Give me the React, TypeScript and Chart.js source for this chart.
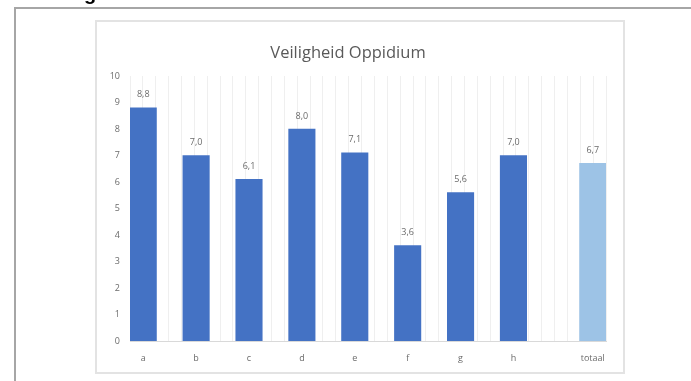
import React, { useEffect, useRef } from "react";
import { Chart, registerables } from "chart.js";

Chart.register(...registerables);

const chartTitle = "Veiligheid Oppidium";
const groups = ["a", "b", "c", "d", "e", "f", "g", "h"];
const groupScores = [8.8, 7.0, 6.1, 8.0, 7.1, 3.6, 5.6, 7.0];
const totalLabel = "totaal";
const totalScore = 6.7;
const yTicks = [0, 1, 2, 3, 4, 5, 6, 7, 8, 9, 10];

const DARK = "#4472C4";
const LIGHT = "#9DC3E6";
const TEXT = "#6b6b6b";

// slot table: each group followed by an empty slot, extra gap before total
const slotLabels: string[] = [];
const slotValues: (number | null)[] = [];
const slotColors: string[] = [];
groups.forEach((g, i) => {
  slotLabels.push(g);
  slotValues.push(groupScores[i]);
  slotColors.push(DARK);
  slotLabels.push("");
  slotValues.push(null);
  slotColors.push(DARK);
});
slotLabels.push("");
slotValues.push(null);
slotColors.push(DARK);
slotLabels.push(totalLabel);
slotValues.push(totalScore);
slotColors.push(LIGHT);

const valueLabels = {
  id: "valueLabels",
  afterDatasetsDraw(chart: any) {
    const ctx = chart.ctx;
    ctx.save();
    ctx.font = "9px 'Open Sans', sans-serif";
    ctx.fillStyle = TEXT;
    ctx.textAlign = "center";
    ctx.textBaseline = "middle";
    chart.data.datasets.forEach((ds: any, di: number) => {
      const meta = chart.getDatasetMeta(di);
      meta.data.forEach((el: any, i: number) => {
        const v = ds.data[i];
        if (v === null || v === undefined) return;
        ctx.fillText(v.toFixed(1).replace(".", ","), el.x, el.y - 13);
      });
    });
    ctx.restore();
  },
};

export default function App() {
  const ref = useRef<HTMLCanvasElement | null>(null);
  useEffect(() => {
    if (!ref.current) return;
    const chart = new Chart(ref.current, {
      type: "bar",
      data: {
        labels: slotLabels,
        datasets: [
          {
            data: slotValues as any,
            backgroundColor: slotColors,
            categoryPercentage: 1,
            barPercentage: 1,
            borderWidth: 0,
          },
        ],
      },
      options: {
        animation: false,
        responsive: false,
        maintainAspectRatio: false,
        layout: { padding: { top: 54, right: 17, bottom: 0, left: 0 } },
        plugins: {
          legend: { display: false },
          title: { display: false },
          tooltip: { enabled: false },
        },
        scales: {
          x: {
            type: "category",
            offset: true,
            grid: { display: false, drawTicks: false },
            border: { display: true, color: "#d9d9d9", width: 1 },
            ticks: {
              color: TEXT,
              font: { size: 9, family: "'Open Sans', sans-serif" },
              padding: 12,
              autoSkip: false,
              maxRotation: 0,
            },
            afterFit: (s: any) => {
              s.height = 31;
            },
          },
          xg: {
            type: "linear",
            position: "top",
            min: 0,
            max: 36,
            grid: { color: "#efefef", drawTicks: false, lineWidth: 1 },
            border: { display: false },
            ticks: { display: false, stepSize: 1 },
            afterFit: (s: any) => {
              s.height = 0;
            },
          },
          y: {
            min: 0,
            max: 10,
            grid: { display: false, drawTicks: false },
            border: { display: false },
            afterBuildTicks: (s: any) => {
              s.ticks = yTicks.map((v) => ({ value: v }));
            },
            ticks: {
              color: TEXT,
              font: { size: 9, family: "'Open Sans', sans-serif" },
              padding: 10,
            },
            afterFit: (s: any) => {
              s.width = 33;
            },
          },
        },
      },
      plugins: [valueLabels],
    });
    return () => chart.destroy();
  }, []);

  return (
    <div>
      <div
        style={{
          position: "fixed",
          left: 82,
          top: 0,
          width: 16,
          height: 4,
          overflow: "hidden",
        }}
      >
        <span
          style={{
            position: "absolute",
            left: 2,
            top: -17,
            fontFamily: "'Liberation Sans', sans-serif",
            fontWeight: "bold",
            fontSize: 20,
            lineHeight: "20px",
            color: "#000",
          }}
        >
          g
        </span>
      </div>
      <div
        style={{
          position: "fixed",
          left: 14,
          top: 7,
          width: 691 - 16,
          height: 381 - 9,
          borderTop: "2px solid #a6a6a6",
          borderLeft: "2px solid #a6a6a6",
          background: "#fff",
        }}
      />
      <div
        style={{
          position: "fixed",
          left: 95,
          top: 20,
          width: 526,
          height: 350,
          border: "2px solid #e3e3e3",
          background: "#fff",
        }}
      >
        <canvas ref={ref} width={526} height={350} style={{ display: "block" }} />
      </div>
      <div
        style={{
          position: "fixed",
          left: 238,
          top: 41,
          width: 220,
          textAlign: "center",
          fontFamily: "'Open Sans', sans-serif",
          fontSize: 16.5,
          lineHeight: "22px",
          color: "#595959",
        }}
      >
        {chartTitle}
      </div>
    </div>
  );
}
